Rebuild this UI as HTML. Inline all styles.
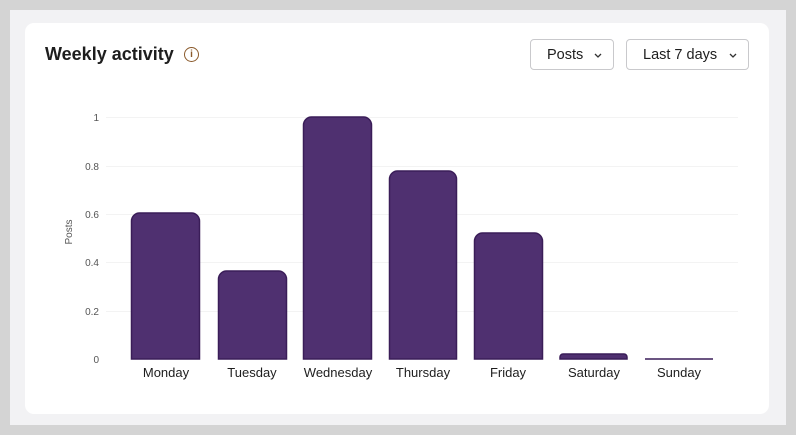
<!DOCTYPE html>
<html><head><style>
body{margin:0;width:796px;height:435px;background:#d4d4d4;font-family:"Liberation Sans",sans-serif;position:relative;overflow:hidden}
.panel{position:absolute;left:10px;top:10px;width:776px;height:415px;background:#f2f2f4}
.card{position:absolute;left:25px;top:23px;width:744px;height:391px;background:#fff;border-radius:9px}
.title{position:absolute;left:45px;top:44px;font-size:18px;font-weight:bold;color:#1e1e1e}
.info{position:absolute;left:184px;top:47px;width:13px;height:13px;border:1.3px solid #8a5a2b;border-radius:50%;font-size:10px;color:#8a5a2b;text-align:center;line-height:13px;font-weight:bold}
.dd{position:absolute;top:39px;height:31px;border:1px solid #c9c9cc;border-radius:4px;font-size:14.5px;color:#1e1e1e;line-height:30px;box-sizing:border-box;padding-left:16px}
.dd svg{position:absolute;right:11px;top:13px}
</style></head><body>
<div class="panel"></div><div class="card"></div>
<div class="title">Weekly activity</div><div class="info">i</div>
<div class="dd" style="left:530px;width:84px">Posts<svg width="8" height="5"><path d="M1,1 L4,4 L7,1" fill="none" stroke="#333" stroke-width="1.3"/></svg></div>
<div class="dd" style="left:626px;width:123px">Last 7 days<svg width="8" height="5"><path d="M1,1 L4,4 L7,1" fill="none" stroke="#333" stroke-width="1.3"/></svg></div>
<svg style="position:absolute;left:0;top:0" width="796" height="435" font-family="Liberation Sans, sans-serif">
<g stroke="#f3f3f3" stroke-width="1">
<line x1="106" x2="738" y1="117.5" y2="117.5"/><line x1="106" x2="738" y1="166.5" y2="166.5"/>
<line x1="106" x2="738" y1="214.5" y2="214.5"/><line x1="106" x2="738" y1="262.5" y2="262.5"/>
<line x1="106" x2="738" y1="311.5" y2="311.5"/></g>
<g font-size="10" fill="#555" text-anchor="end">
<text x="99" y="121">1</text><text x="99" y="170">0.8</text><text x="99" y="218">0.6</text>
<text x="99" y="266">0.4</text><text x="99" y="315">0.2</text><text x="99" y="363">0</text></g>
<text x="72" y="232" font-size="10" fill="#555" text-anchor="middle" transform="rotate(-90 72 232)">Posts</text>
<g fill="#4f3070" stroke="#3a1d58" stroke-width="1.5">
<path d="M131.5,359 V221 a8,8 0 0 1 8,-8 H191.5 a8,8 0 0 1 8,8 V359Z"/>
<path d="M218.5,359 V279 a8,8 0 0 1 8,-8 H278.5 a8,8 0 0 1 8,8 V359Z"/>
<path d="M303.5,359 V125 a8,8 0 0 1 8,-8 H363.5 a8,8 0 0 1 8,8 V359Z"/>
<path d="M389.5,359 V179 a8,8 0 0 1 8,-8 H448.5 a8,8 0 0 1 8,8 V359Z"/>
<path d="M474.5,359 V241 a8,8 0 0 1 8,-8 H534.5 a8,8 0 0 1 8,8 V359Z"/>
<path d="M560,359 V357 a3,3 0 0 1 3,-3 H624 a3,3 0 0 1 3,3 V359Z"/>
<line x1="645" x2="713" y1="359" y2="359"/>
</g>
<g font-size="13" fill="#1e1e1e" text-anchor="middle">
<text x="166" y="377">Monday</text><text x="252" y="377">Tuesday</text><text x="338" y="377">Wednesday</text>
<text x="423" y="377">Thursday</text><text x="508" y="377">Friday</text><text x="594" y="377">Saturday</text>
<text x="679" y="377">Sunday</text></g>
</svg>
</body></html>
